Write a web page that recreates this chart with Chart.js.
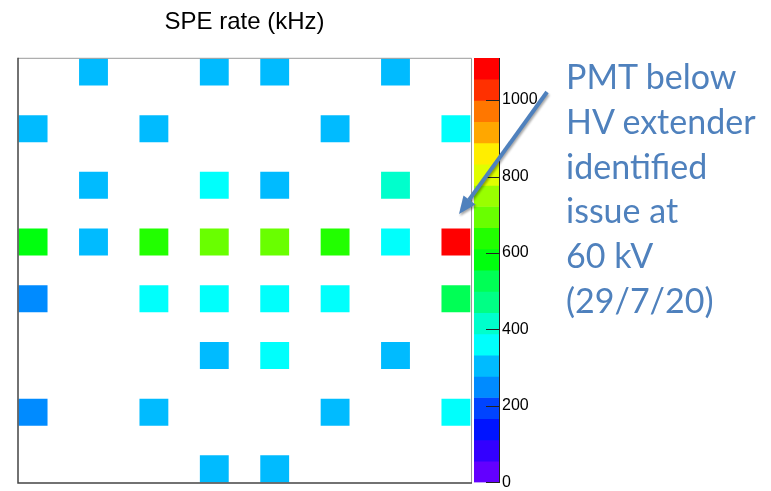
<!DOCTYPE html>
<html><head><meta charset="utf-8">
<script src="https://cdn.jsdelivr.net/npm/chart.js@4/dist/chart.umd.min.js"></script>
<style>
html,body{margin:0;padding:0;background:#fff;overflow:hidden;width:771px;height:491px;position:relative;}
#c1{position:absolute;left:0;top:0;}
#c2{position:absolute;left:474px;top:0;}
#arrow{position:absolute;left:0;top:0;filter:drop-shadow(1.5px 2px 1.2px rgba(0,0,0,0.35));}
#note{position:absolute;left:566px;top:54px;font-family:Lato,'Open Sans',sans-serif;font-size:34px;line-height:44.8px;color:#4f81bd;white-space:nowrap;}
</style></head><body>
<canvas id="c1" width="489" height="491"></canvas>
<canvas id="c2" width="90" height="495"></canvas>
<svg id="arrow" width="771" height="491">
  <line x1="547" y1="92" x2="469" y2="200" stroke="#4f81bd" stroke-width="4"/>
  <polygon points="459,214 463.5,195.5 475.5,204.5" fill="#4f81bd"/>
</svg>
<div id="note">PMT below<br>HV extender<br>identified<br>issue at<br>60 kV<br>(29/7/20)</div>
<script>
// SPE rate (kHz) per PMT, rows from top to bottom, 8 PMT columns (null = no PMT)
const row1 = [null, 305, null, 300, 310, null, 305, null];
const row2 = [300, null, 310, null, null, 305, null, 365];
const row3 = [null, 300, null, 360, 305, null, 420, null];
const row4 = [585, 305, 640, 700, 695, 640, 365, 1110];
const row5 = [250, null, 360, 360, 365, 360, null, 530];
const row6 = [null, null, null, 305, 360, null, 300, null];
const row7 = [250, null, 305, null, null, 310, null, 365];
const row8 = [null, null, null, 300, 305, null, null, null];
const pmtRows = [row1, row2, row3, row4, row5, row6, row7, row8];
const zTickValues = [0, 200, 400, 600, 800, 1000];
const nContours = 20;

// ROOT "pretty" rainbow palette sampled at 20 contours
const palette = ['#6300ff','#3300ff','#0014ff','#0044ff','#008bff','#00bbff','#00fffc','#00ffcc','#00ff85','#00ff55',
                 '#00ff0e','#22ff00','#69ff00','#99ff00','#e0ff00','#ffee00','#ffa700','#ff7700','#ff3000','#ff0000'];

const nSlots = 15; // PMTs sit on every other slot of a 15x15 grid
const slotLabels = Array.from({length: nSlots}, (_, i) => String(i));
const allValues = pmtRows.flat().filter(v => v != null);
const zMax = Math.max(...allValues);
const zStep = zMax / nContours;
function colorFor(v) {
  if (v == null) return 'rgba(0,0,0,0)';
  const k = Math.min(nContours - 1, Math.floor(v / zStep));
  return palette[k];
}

const cells = [];
pmtRows.forEach((row, r) => row.forEach((v, c) => {
  if (v != null) cells.push({x: String(2 * c), y: [nSlots - 1 - 2 * r, nSlots - 2 * r], v});
}));

const framePlugin = {
  id: 'frame',
  afterDatasetsDraw(chart) {
    const {ctx, chartArea: a} = chart;
    ctx.save();
    ctx.lineWidth = 1;
    ctx.strokeStyle = '#9a9a9a';
    ctx.beginPath();
    ctx.moveTo(a.left, a.top + 0.5); ctx.lineTo(a.right + 0.5, a.top + 0.5); ctx.lineTo(a.right + 0.5, a.bottom);
    ctx.stroke();
    ctx.strokeStyle = '#444';
    ctx.lineWidth = 1.5;
    ctx.beginPath();
    ctx.moveTo(a.left, a.top); ctx.lineTo(a.left, a.bottom); ctx.lineTo(a.right + 1, a.bottom);
    ctx.stroke();
    ctx.restore();
  }
};

new Chart(document.getElementById('c1'), {
  type: 'bar',
  data: {
    labels: slotLabels,
    datasets: [{
      data: cells,
      backgroundColor: ctx => colorFor(ctx.raw && ctx.raw.v),
      borderColor: 'rgba(255,255,255,0.45)',
      borderWidth: 1,
      borderSkipped: false,
      categoryPercentage: 1,
      barPercentage: 1
    }]
  },
  options: {
    responsive: false,
    animation: false,
    layout: {padding: {left: 18, right: 18, top: 0, bottom: 8}},
    plugins: {
      legend: {display: false},
      tooltip: {enabled: false},
      title: {display: true, text: 'SPE rate (kHz)', color: '#000',
        font: {family: "'Liberation Sans', Arial, sans-serif", size: 24, weight: 'normal', lineHeight: 1.2},
        padding: {top: 8, bottom: 21}}
    },
    scales: {
      x: {type: 'category', offset: true, grid: {display: false, drawTicks: false}, border: {display: false}, ticks: {display: false}},
      y: {type: 'linear', min: 0, max: nSlots, grid: {display: false, drawTicks: false}, border: {display: false}, ticks: {display: false}}
    }
  },
  plugins: [framePlugin]
});

const bands = palette.map((col, k) => ({x: 'z', y: [k * zStep, (k + 1) * zStep]}));

const tickMarkPlugin = {
  id: 'zticks',
  afterDatasetsDraw(chart) {
    const {ctx, chartArea: a, scales: {y}} = chart;
    ctx.save();
    ctx.strokeStyle = '#222';
    ctx.lineWidth = 1;
    y.ticks.forEach(t => {
      const py = Math.round(y.getPixelForValue(t.value)) + 0.5;
      ctx.beginPath(); ctx.moveTo(a.right - 13, py); ctx.lineTo(a.right, py); ctx.stroke();
    });
    ctx.restore();
  }
};

new Chart(document.getElementById('c2'), {
  type: 'bar',
  data: {labels: ['z'], datasets: [{data: bands, backgroundColor: palette, borderWidth: 0, categoryPercentage: 1, barPercentage: 1}]},
  options: {
    responsive: false,
    animation: false,
    layout: {padding: {left: 0, right: 0, top: 58, bottom: 12}},
    plugins: {legend: {display: false}, tooltip: {enabled: false}},
    scales: {
      x: {offset: true, grid: {display: false, drawTicks: false}, border: {display: false}, ticks: {display: false}},
      y: {position: 'right', min: 0, max: zMax,
        afterBuildTicks: s => { s.ticks = zTickValues.map(v => ({value: v})); },
        afterFit: s => { s.width = 65; },
        grid: {display: false, drawTicks: false},
        border: {display: true, color: '#222', width: 1},
        ticks: {padding: 3, color: '#000', callback: v => String(v),
          font: {family: "'Liberation Sans', Arial, sans-serif", size: 16}}}
    }
  },
  plugins: [tickMarkPlugin]
});
</script>
</body></html>
